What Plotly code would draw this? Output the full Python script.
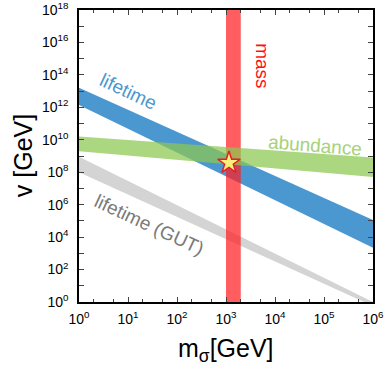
import math
import plotly.graph_objects as go

# band edges at the two ends of the mass range (log-log straight lines)
m_ends = [1, 1e6]
lifetime_hi = [10**13.2, 10**5.05]
lifetime_lo = [10**12.15, 10**3.35]
abundance_hi = [10**10.2, 10**8.9]
abundance_lo = [10**9.3, 10**7.7]
gut_hi = [10**8.95, 10**0.0]
gut_lo = [10**8.0, 10**-0.25]

mass_range = [1000, 2000]
v_full = [1, 1e18]

star_m = [1150]
star_v = [10**8.58]

x_ticks = [10**i for i in range(0, 7)]
y_ticks = [10**i for i in range(0, 19)]


def band(lo, hi, color):
    return go.Scatter(x=m_ends + m_ends[::-1], y=lo + hi[::-1], fill="toself",
                      fillcolor=color, line=dict(width=0), mode="lines",
                      hoverinfo="skip", showlegend=False)


fig = go.Figure()
fig.add_trace(band(gut_lo, gut_hi, "#d4d4d4"))
fig.add_trace(band(lifetime_lo, lifetime_hi, "#4b97d0"))
fig.add_trace(go.Scatter(x=[mass_range[0], mass_range[1], mass_range[1], mass_range[0]],
                         y=[v_full[0], v_full[0], v_full[1], v_full[1]],
                         fill="toself", fillcolor="rgba(255,30,35,0.72)",
                         line=dict(width=0), mode="lines", showlegend=False))
fig.add_trace(band(abundance_lo, abundance_hi, "rgba(140,200,80,0.72)"))
fig.add_trace(go.Scatter(x=star_m, y=star_v, mode="markers", showlegend=False,
                         marker=dict(symbol="star", size=17, color="#f8ee7a",
                                     line=dict(color="#e0202a", width=1.5))))

font = "Liberation Sans, Arial, sans-serif"
# label text, position (m, v), colour, angle
notes = [
    ("lifetime", 10**1.0, 10**12.95, "#4b97d0", 25),
    ("abundance", 10**4.82, 10**9.63, "#a6d27a", 4.5),
    ("lifetime (GUT)", 10**1.42, 10**4.75, "#7a7a7a", 25),
    ("mass", 10**3.73, 10**14.55, "#ff1010", 90),
]
for txt, x, y, c, ang in notes:
    fig.add_annotation(x=math.log10(x), y=math.log10(y), text=txt, showarrow=False,
                       textangle=ang, font=dict(family=font, size=19, color=c),
                       xref="x", yref="y")

fig.add_annotation(text="m<sub>σ</sub>[GeV]", xref="paper", yref="paper",
                   x=0.5, y=-0.164, yanchor="middle", showarrow=False,
                   font=dict(family=font, size=25, color="black"))
fig.add_annotation(text="v [GeV]", xref="paper", yref="paper",
                   x=-0.19, xanchor="center", y=0.5, showarrow=False, textangle=-90,
                   font=dict(family=font, size=25, color="black"))

fig.update_xaxes(type="log", range=[0, 6], tickvals=x_ticks, automargin=False,
                 ticktext=[f"10<sup>{i}</sup>" for i in range(0, 7)],
                 ticks="inside", ticklen=5, showline=True, linecolor="black",
                 linewidth=1.5, mirror="ticks", showgrid=False, zeroline=False,
                 ticklabelstandoff=3, ticklabeloverflow="allow",
                 minor=dict(ticks="inside", ticklen=3, dtick="D2", showgrid=False),
                 tickfont=dict(family=font, size=14, color="black"))
fig.update_yaxes(type="log", range=[0, 18], tickvals=y_ticks, automargin=False,
                 ticktext=[f"10<sup>{i}</sup>" if i % 2 == 0 else "" for i in range(0, 19)],
                 ticks="inside", ticklen=5, showline=True, linecolor="black",
                 linewidth=1.5, mirror="ticks", showgrid=False, zeroline=False,
                 ticklabelstandoff=6, ticklabeloverflow="allow",
                 tickfont=dict(family=font, size=14, color="black"))

fig.update_layout(width=386, height=381, plot_bgcolor="white", paper_bgcolor="white",
                  margin=dict(l=79, r=13, t=10, b=79), showlegend=False)

# drop the page's default 8px body margin so the figure fills the window
fig.write_html("out.html", config={"displayModeBar": False},
               post_script="document.body.style.margin='0px';")
